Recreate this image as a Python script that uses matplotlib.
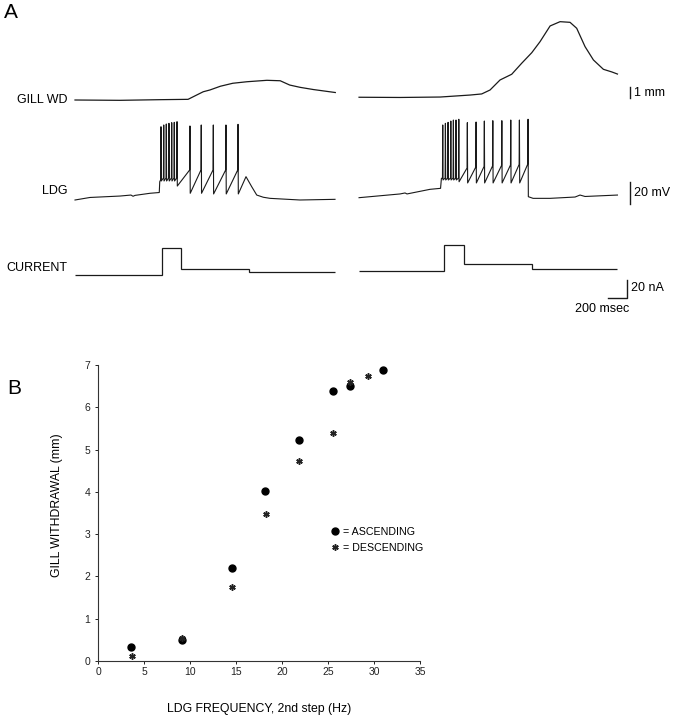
import matplotlib
matplotlib.use("Agg")
import matplotlib.pyplot as plt
import numpy as np
from matplotlib.lines import Line2D

plt.rcParams['font.family'] = ['Liberation Sans', 'DejaVu Sans']

# ---------------- panel A traces (time in ms from sweep start) ----------------
# gill withdrawal (mm)
gill_left_t = [0, 470, 900, 1190, 1280, 1350, 1420, 1530, 1660, 1810, 2020, 2160, 2260, 2370, 2510, 2740]
gill_left_mm = [0, -0.03, 0.03, 0.06, 0.45, 0.75, 0.91, 1.25, 1.52, 1.66, 1.79, 1.75, 1.36, 1.15, 0.95, 0.68]
gill_right_t = [0, 432, 853, 1168, 1291, 1379, 1484, 1607, 1712, 1818, 1905, 2011, 2116, 2221, 2291, 2379,
                2467, 2572, 2661, 2720]
gill_right_mm = [0.25, 0.23, 0.27, 0.45, 0.55, 0.91, 1.82, 2.34, 3.34, 4.3, 5.3, 6.73, 7.12, 7.06, 6.52, 4.85,
                 3.64, 2.79, 2.55, 2.36]

# LDG membrane potential (mV, relative)
ldg_left_pre_t = [0, 158, 474, 589, 611, 632, 789, 887, 892]
ldg_left_pre_mv = [0, 2.3, 3.6, 4.5, 3.4, 4.2, 6.1, 6.8, 16.6]
ldg_left_spike_t = [905, 934, 961, 989, 1018, 1045, 1074, 1210, 1329, 1456, 1589, 1716]
ldg_left_peak = [66.6, 68.2, 69.1, 69.7, 70.3, 70.6, 71.2, 67.3, 68.2, 68.2, 68.2, 68.8]
ldg_left_before = [18.5, 20, 20, 20, 20, 20, 20, 27.3, 27.3, 27.3, 27.3, 27.3]
ldg_left_after = [17.3, 17.3, 17.3, 17.3, 17.3, 17.3, 12.7, 6.1, 6.1, 5.5, 5.5, 5.5]
ldg_left_tail_t = [1800, 1860, 1913, 1982, 2053, 2368, 2737]
ldg_left_tail_mv = [21.2, 12.1, 4.5, 2.5, 1.5, 0, 0.6]

ldg_right_pre_t = [0, 432, 484, 505, 747, 858, 867]
ldg_right_pre_mv = [2.1, 5.5, 6.4, 5.5, 9.7, 10.6, 19.7]
ldg_right_spike_t = [881, 909, 937, 966, 993, 1021, 1050, 1140, 1232, 1319, 1408, 1503, 1597, 1688, 1779]
ldg_right_peak = [68.2, 69.7, 70.6, 71.8, 72.7, 72.7, 73.4, 70.3, 70.9, 71.8, 72.1, 72.1, 72.7, 72.7, 73.4]
ldg_right_before = [20, 20, 20, 20, 20, 20, 20, 29.1, 30, 30.5, 30.9, 31.4, 31.8, 32.3, 32.7]
ldg_right_after = [18.2, 18.2, 18.2, 18.2, 18.2, 18.2, 16.6, 15.5, 15.5, 15.5, 15.5, 15.5, 15.5, 15.5, 3.0]
ldg_right_tail_t = [1832, 2011, 2274, 2326, 2379, 2720]
ldg_right_tail_mv = [1.5, 1.5, 2.7, 4.5, 3.2, 4.5]

# injected current (nA), step edges in ms
cur_left_edges = [0, 919, 1121, 1832, 2737]
cur_left_na = [0.0, 29.7, 6.7, 2.8]
cur_right_edges = [0, 898, 1100, 1821, 2720]
cur_right_na = [4.0, 32.8, 12.5, 6.7]

# ---------------- panel B ----------------
asc_hz = [3.6, 9.1, 14.6, 18.2, 21.9, 25.5, 27.4, 31.0]
asc_mm = [0.32, 0.49, 2.19, 4.03, 5.23, 6.39, 6.51, 6.87]
desc_hz = [3.7, 9.1, 14.6, 18.3, 21.9, 25.5, 27.4, 29.3]
desc_mm = [0.13, 0.55, 1.74, 3.48, 4.74, 5.39, 6.59, 6.73]


def spike_trace(pre_t, pre_v, sp_t, peak, before, after, tail_t, tail_v):
    t = list(pre_t)
    v = list(pre_v)
    for ts, pk, b, a in zip(sp_t, peak, before, after):
        t += [ts - 3, ts, ts + 3]
        v += [b, pk, a]
    return t + list(tail_t), v + list(tail_v)


W, H = 678, 720
fig = plt.figure(figsize=(W / 100, H / 100), dpi=100)

XLIM = (-789.5, 6347.4)
OFFSET = 2990  # start of the right sweep
LW = 0.9
INK = '#1a1a1a'
FS = 9


def row_axes(top_px, bot_px, ylim):
    ax = fig.add_axes([0, 1 - bot_px / H, 1, (bot_px - top_px) / H])
    ax.set_xlim(*XLIM)
    ax.set_ylim(*ylim)
    ax.axis('off')
    return ax


ax_g = row_axes(0, 110, (-0.909, 9.09))
ax_v = row_axes(110, 215, (-13.64, 81.82))
ax_c = row_axes(215, 320, (-50, 66.67))

ax_g.plot(gill_left_t, gill_left_mm, color=INK, lw=LW)
ax_g.plot(np.array(gill_right_t) + OFFSET, gill_right_mm, color=INK, lw=LW)

lt, lv = spike_trace(ldg_left_pre_t, ldg_left_pre_mv, ldg_left_spike_t, ldg_left_peak,
                     ldg_left_before, ldg_left_after, ldg_left_tail_t, ldg_left_tail_mv)
rt, rv = spike_trace(ldg_right_pre_t, ldg_right_pre_mv, ldg_right_spike_t, ldg_right_peak,
                     ldg_right_before, ldg_right_after, ldg_right_tail_t, ldg_right_tail_mv)
ax_v.plot(lt, lv, color=INK, lw=0.8)
ax_v.plot(np.array(rt) + OFFSET, rv, color=INK, lw=0.8)

ax_c.stairs(cur_left_na, cur_left_edges, baseline=None, color=INK, lw=LW)
ax_c.stairs(cur_right_na, np.array(cur_right_edges) + OFFSET, baseline=None, color=INK, lw=LW)

# row labels
ax_g.text(-84, 0, 'GILL WD', ha='right', va='center', fontsize=FS)
ax_v.text(-84, 8.5, 'LDG', ha='right', va='center', fontsize=FS)
ax_c.text(-84, 7.4, 'CURRENT', ha='right', va='center', fontsize=FS)

# scale bars
ax_g.plot([5842, 5842], [0.15, 1.15], color=INK, lw=1.0)
ax_g.text(5880, 0.65, '1 mm', ha='left', va='center', fontsize=FS)
ax_v.plot([5842, 5842], [-3.6, 16.4], color=INK, lw=1.0)
ax_v.text(5880, 6.4, '20 mV', ha='left', va='center', fontsize=FS)
ax_c.plot([5614, 5814, 5814], [-25.2, -25.2, -5.2], color=INK, lw=1.0)
ax_c.text(5852, -14.4, '20 nA', ha='left', va='center', fontsize=FS)
ax_c.text(5835, -38.3, '200 msec', ha='right', va='center', fontsize=FS)

fig.text(10.5 / W, 1 - 12.5 / H, 'A', ha='center', va='center', fontsize=15)
fig.text(14 / W, 1 - 388 / H, 'B', ha='center', va='center', fontsize=15)

# ---------------- panel B axes ----------------
axb = fig.add_axes([98 / W, 1 - 661 / H, (420 - 98) / W, (661 - 365) / H])
axb.plot(asc_hz, asc_mm, 'o', color='black', ms=5.0, clip_on=False)
axb.plot(desc_hz, desc_mm, ls='none', marker=(6, 2, 0), color='#222222', ms=4.6, mew=1.1, clip_on=False)
axb.set_xlim(0, 35)
axb.set_ylim(0, 7)
axb.set_xticks(range(0, 36, 5))
axb.set_yticks(range(0, 8))
for s in ['top', 'right']:
    axb.spines[s].set_visible(False)
for s in ['left', 'bottom']:
    axb.spines[s].set_linewidth(0.8)
    axb.spines[s].set_color('#333333')
axb.tick_params(direction='out', length=2.2, width=0.7, labelsize=7.5, colors='#222222')
axb.tick_params(axis='y', pad=3.2)
axb.tick_params(axis='x', pad=2.0)
axb.text(0.5, -0.163, 'LDG FREQUENCY, 2nd step (Hz)', transform=axb.transAxes,
         ha='center', va='center', fontsize=8.8)
axb.text(-0.128, 0.525, 'GILL WITHDRAWAL (mm)', transform=axb.transAxes, rotation=90,
         ha='center', va='center', fontsize=8.8)

handles = [Line2D([], [], ls='none', marker='o', color='black', ms=5.0),
           Line2D([], [], ls='none', marker=(6, 2, 0), color='#222222', ms=4.6, mew=1.1)]
axb.legend(handles, ['= ASCENDING', '= DESCENDING'], loc='upper left',
           bbox_to_anchor=(0.7215, 0.4537), frameon=False, fontsize=7.7,
           handlelength=0.8, handletextpad=0.4, borderpad=0, borderaxespad=0,
           labelspacing=0.6)

fig.savefig('out.png', dpi=100)
